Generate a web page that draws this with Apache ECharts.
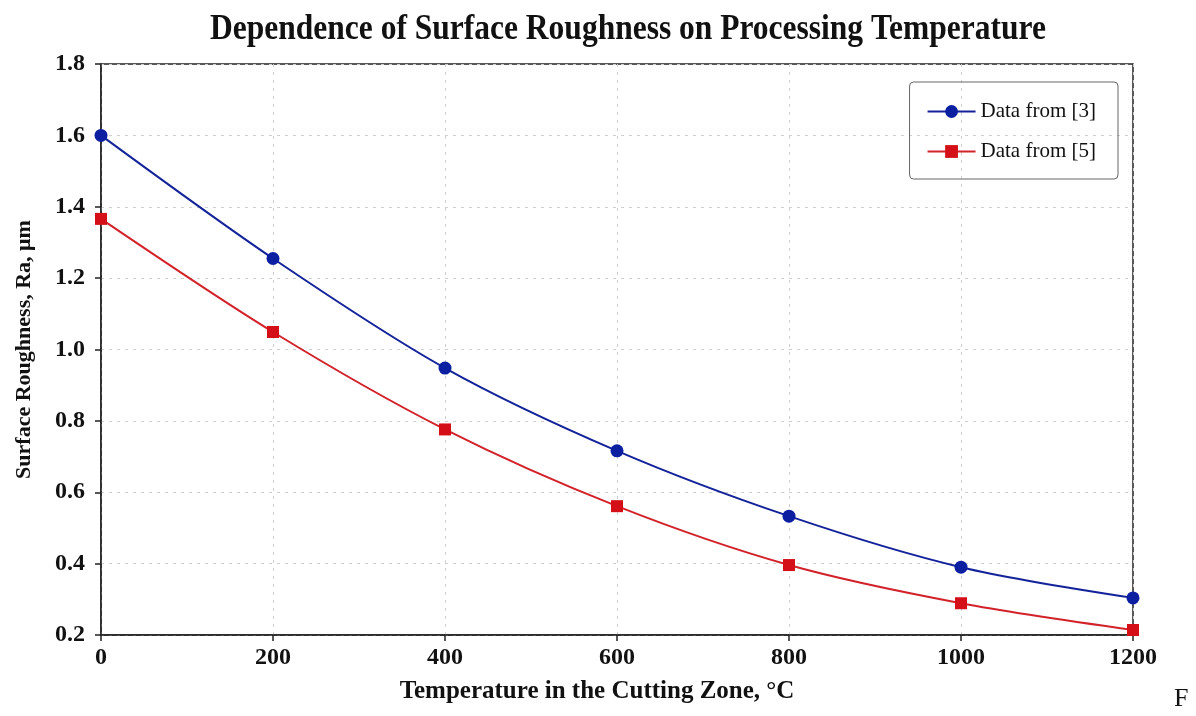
<!DOCTYPE html>
<html>
<head>
<meta charset="utf-8">
<script src="https://cdn.jsdelivr.net/npm/echarts@6/dist/echarts.min.js"></script>
<style>
  html, body { margin: 0; padding: 0; background: #fff; }
  #chart { width: 1196px; height: 716px; }
</style>
</head>
<body>
<div id="chart"></div>
<script>
// temperature in the cutting zone, °C
var temps = [0, 200, 400, 600, 800, 1000, 1200];
// surface roughness Ra, µm
var data3 = [1.60, 1.255, 0.948, 0.716, 0.533, 0.39, 0.304];
var data5 = [1.366, 1.049, 0.776, 0.561, 0.396, 0.289, 0.214];

var serif = '"Liberation Serif", "DejaVu Serif", serif';

function pairs(xs, ys) {
  var out = [];
  for (var i = 0; i < xs.length; i++) out.push([xs[i], ys[i]]);
  return out;
}

var chart = echarts.init(document.getElementById('chart'));

var option = {
  backgroundColor: '#fff',
  animation: false,
  grid: {
    left: 101, right: 63, top: 64, bottom: 81,
    show: true, borderColor: '#222', borderWidth: 1.5
  },
  legend: {
    right: 78, top: 82,
    orient: 'vertical',
    itemGap: 19,
    itemWidth: 48, itemHeight: 16,
    padding: [19, 22, 17, 17],
    borderColor: '#666', borderWidth: 1, borderRadius: 4,
    textStyle: { fontFamily: serif, fontSize: 21, color: '#111' },
    data: ['Data from [3]', 'Data from [5]']
  },
  xAxis: {
    type: 'value', min: 0, max: 1200, interval: 200,
    name: 'Temperature in the Cutting Zone, °C',
    nameLocation: 'middle', nameGap: 44,
    nameTextStyle: { fontFamily: serif, fontWeight: 'bold', fontSize: 25, color: '#111', padding: [0, 40, 0, 0] },
    axisLine: { lineStyle: { color: '#222', width: 1.5 } },
    axisTick: { show: true, length: 6, lineStyle: { color: '#222', width: 1.5 } },
    axisLabel: {
      margin: 11, fontFamily: serif, fontWeight: 'bold', fontSize: 24, color: '#111',
      formatter: function (v) { return String(v); }
    },
    splitLine: { show: true, lineStyle: { color: '#cfcfcf', type: [3, 5], width: 1 } }
  },
  yAxis: {
    type: 'value', min: 0.2, max: 1.8, interval: 0.2,
    name: 'Surface Roughness, Ra, μm',
    nameLocation: 'middle', nameGap: 66,
    nameTextStyle: { fontFamily: serif, fontWeight: 'bold', fontSize: 22, color: '#111' },
    axisLine: { show: true, lineStyle: { color: '#222', width: 1.5 } },
    axisTick: { show: true, length: 6, lineStyle: { color: '#222', width: 1.5 } },
    axisLabel: {
      margin: 16, fontFamily: serif, fontWeight: 'bold', fontSize: 24, color: '#111',
      formatter: function (v) { return v.toFixed(1); }
    },
    splitLine: { show: true, lineStyle: { color: '#cfcfcf', type: [3, 5], width: 1 } }
  },
  series: [
    {
      name: 'Data from [3]',
      type: 'line',
      data: pairs(temps, data3),
      smooth: 0.3,
      symbol: 'circle', symbolSize: 13,
      lineStyle: { color: '#14239a', width: 2 },
      itemStyle: { color: '#0b1fa0' },
      z: 3
    },
    {
      name: 'Data from [5]',
      type: 'line',
      data: pairs(temps, data5),
      smooth: 0.3,
      symbol: 'rect', symbolSize: 12,
      lineStyle: { color: '#d2222a', width: 2 },
      itemStyle: { color: '#d40f17' },
      z: 3
    }
  ],
  graphic: [
    {
      type: 'text', x: 628, y: 30, scaleX: 0.9,
      style: {
        text: 'Dependence of Surface Roughness on Processing Temperature',
        font: 'bold 35px ' + serif, fill: '#111',
        align: 'center', verticalAlign: 'middle'
      }
    },
    {
      type: 'text', left: 1174, top: 686,
      style: { text: 'F', font: '26px ' + serif, fill: '#111' }
    }
  ]
};

chart.setOption(option);
</script>
</body>
</html>
